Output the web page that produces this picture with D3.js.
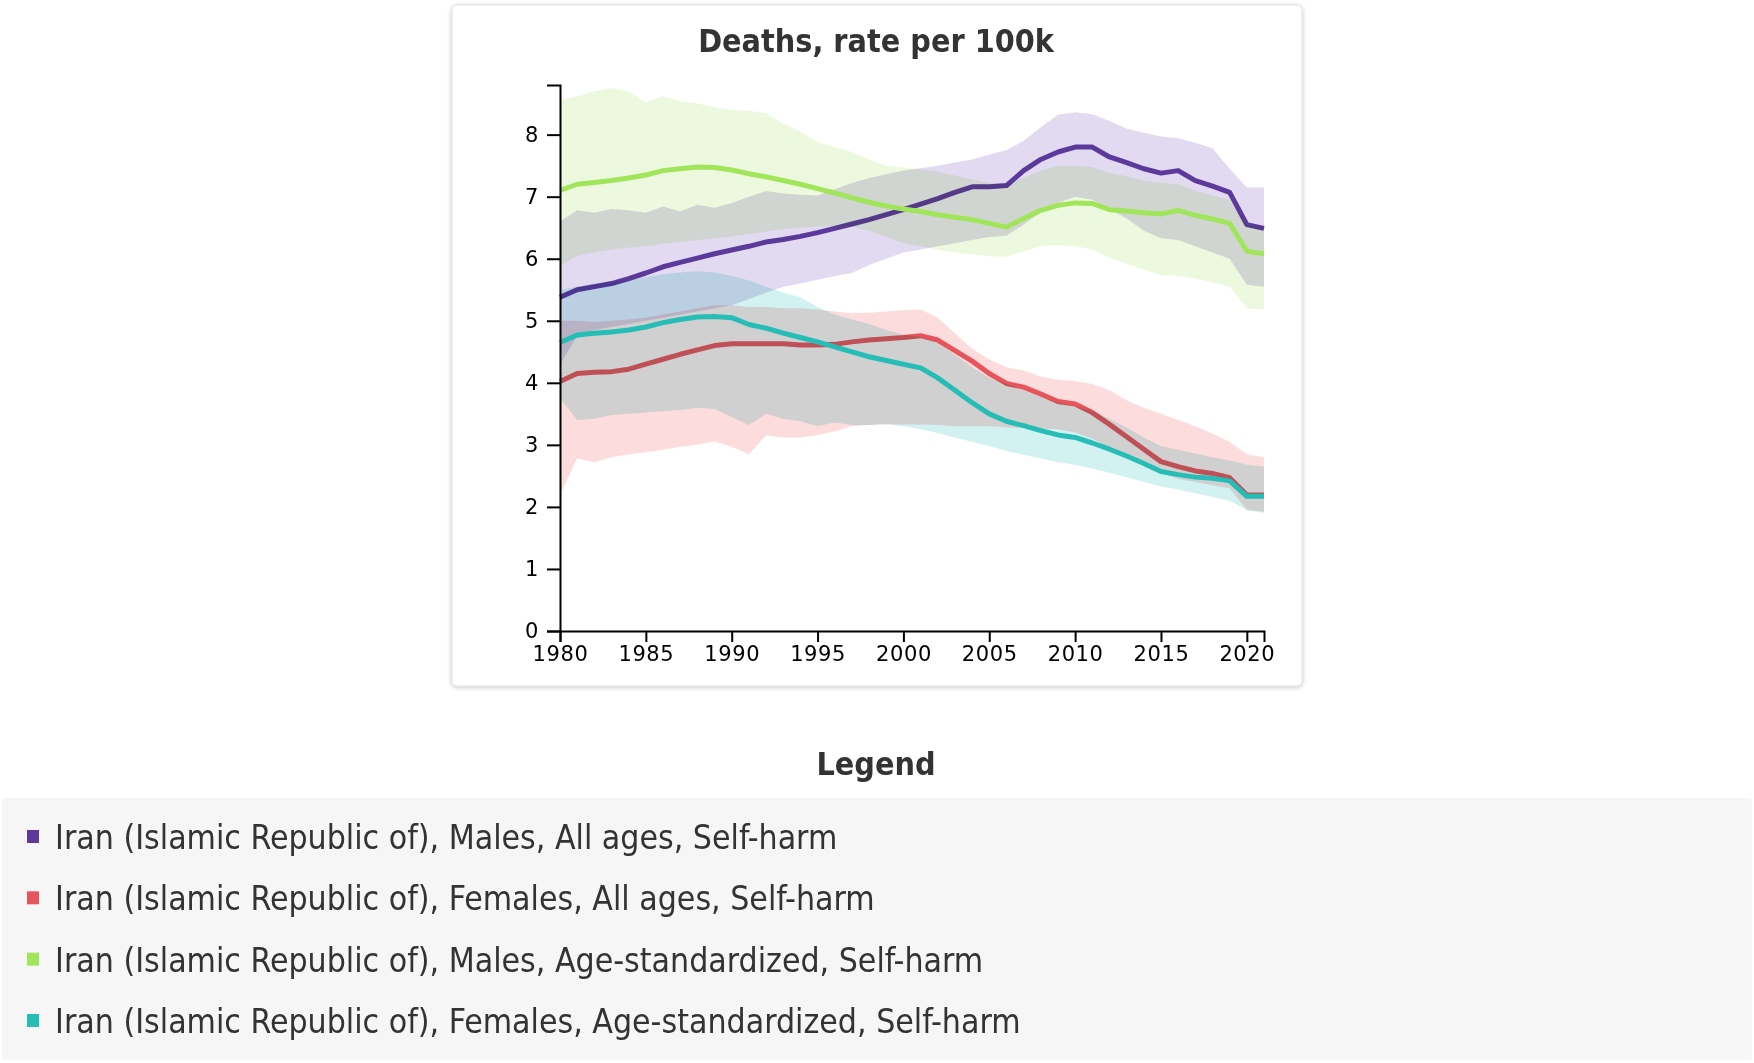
<!DOCTYPE html>
<html>
<head>
<meta charset="utf-8">
<script src="https://cdn.jsdelivr.net/npm/d3@7"></script>
<style>
  body { margin: 0; background: #fff; }
  svg { display: block; }
  .title { font-family: 'DejaVu Sans Condensed', 'DejaVu Sans', sans-serif; font-weight: bold; font-size: 32px; fill: #333; }
  .legend-item { font-family: 'DejaVu Sans Condensed', 'DejaVu Sans', sans-serif; font-size: 33.5px; fill: #333; }
  .axis path, .axis line { stroke: #000; stroke-width: 2; }
  .axis text { font-family: 'DejaVu Sans', sans-serif; font-size: 21px; letter-spacing: 0.6px; fill: #000; }
  .band { mix-blend-mode: multiply; }
  .line { fill: none; stroke-width: 5; stroke-linejoin: round; }
</style>
</head>
<body>
<svg id="chart"></svg>
<script>
const years = [1980, 1981, 1982, 1983, 1984, 1985, 1986, 1987, 1988, 1989,
    1990, 1991, 1992, 1993, 1994, 1995, 1996, 1997, 1998, 1999,
    2000, 2001, 2002, 2003, 2004, 2005, 2006, 2007, 2008, 2009,
    2010, 2011, 2012, 2013, 2014, 2015, 2016, 2017, 2018, 2019,
    2020, 2021]

// Males, All ages
const malesAll = [5.38, 5.50, 5.55, 5.60, 5.68, 5.77, 5.87, 5.94, 6.01, 6.08,
    6.14, 6.20, 6.27, 6.31, 6.36, 6.42, 6.49, 6.56, 6.63, 6.71,
    6.79, 6.88, 6.97, 7.07, 7.16, 7.16, 7.18, 7.42, 7.60, 7.72,
    7.80, 7.80, 7.64, 7.55, 7.45, 7.38, 7.42, 7.26, 7.17, 7.07,
    6.55, 6.49]
const malesAllUpper = [6.60, 6.78, 6.74, 6.80, 6.78, 6.74, 6.84, 6.76, 6.87, 6.82,
    6.90, 7.00, 7.09, 7.05, 7.03, 7.02, 7.12, 7.22, 7.30, 7.36,
    7.42, 7.46, 7.50, 7.55, 7.60, 7.68, 7.75, 7.90, 8.12, 8.32,
    8.36, 8.33, 8.22, 8.10, 8.03, 7.97, 7.94, 7.87, 7.78, 7.45,
    7.15, 7.15]
const malesAllLower = [4.30, 4.75, 4.85, 4.90, 4.95, 5.00, 5.05, 5.10, 5.15, 5.20,
    5.25, 5.35, 5.45, 5.55, 5.60, 5.66, 5.72, 5.77, 5.90, 6.00,
    6.10, 6.15, 6.20, 6.25, 6.30, 6.35, 6.37, 6.55, 6.75, 6.90,
    7.00, 6.95, 6.80, 6.65, 6.45, 6.33, 6.30, 6.20, 6.10, 6.00,
    5.58, 5.55]

// Females, All ages
const femalesAll = [4.02, 4.15, 4.17, 4.18, 4.22, 4.30, 4.38, 4.46, 4.53, 4.60,
    4.63, 4.63, 4.63, 4.63, 4.61, 4.61, 4.62, 4.66, 4.69, 4.71,
    4.73, 4.76, 4.69, 4.52, 4.35, 4.15, 3.99, 3.93, 3.82, 3.70,
    3.66, 3.52, 3.33, 3.13, 2.93, 2.73, 2.65, 2.58, 2.54, 2.47,
    2.19, 2.19]
const femalesAllUpper = [5.00, 5.00, 4.98, 5.00, 5.02, 5.05, 5.10, 5.15, 5.20, 5.25,
    5.25, 5.22, 5.22, 5.20, 5.20, 5.18, 5.15, 5.12, 5.13, 5.15,
    5.17, 5.18, 5.05, 4.80, 4.55, 4.38, 4.25, 4.20, 4.10, 4.05,
    4.03, 3.98, 3.88, 3.72, 3.60, 3.50, 3.40, 3.30, 3.18, 3.05,
    2.85, 2.80]
const femalesAllLower = [2.20, 2.78, 2.72, 2.80, 2.85, 2.88, 2.92, 2.97, 3.00, 3.06,
    2.97, 2.85, 3.15, 3.12, 3.12, 3.16, 3.22, 3.30, 3.32, 3.33,
    3.33, 3.33, 3.32, 3.30, 3.30, 3.30, 3.28, 3.27, 3.26, 3.25,
    3.20, 3.10, 2.95, 2.80, 2.66, 2.55, 2.45, 2.40, 2.35, 2.30,
    1.95, 1.92]

// Males, Age-standardized
const malesStd = [7.10, 7.20, 7.23, 7.26, 7.30, 7.35, 7.42, 7.45, 7.48, 7.47,
    7.43, 7.37, 7.32, 7.26, 7.20, 7.13, 7.06, 6.98, 6.91, 6.85,
    6.80, 6.76, 6.71, 6.67, 6.63, 6.57, 6.51, 6.65, 6.78, 6.86,
    6.90, 6.89, 6.79, 6.77, 6.74, 6.72, 6.78, 6.70, 6.64, 6.57,
    6.12, 6.08]
const malesStdUpper = [8.56, 8.62, 8.70, 8.75, 8.70, 8.52, 8.62, 8.54, 8.50, 8.44,
    8.40, 8.38, 8.35, 8.18, 8.05, 7.88, 7.80, 7.72, 7.60, 7.50,
    7.47, 7.44, 7.40, 7.34, 7.28, 7.22, 7.20, 7.30, 7.42, 7.50,
    7.50, 7.48, 7.38, 7.33, 7.26, 7.22, 7.20, 7.10, 7.02, 6.95,
    6.55, 6.50]
const malesStdLower = [5.88, 6.05, 6.10, 6.15, 6.18, 6.20, 6.24, 6.27, 6.30, 6.33,
    6.36, 6.40, 6.44, 6.48, 6.50, 6.52, 6.52, 6.52, 6.45, 6.35,
    6.25, 6.20, 6.15, 6.10, 6.07, 6.04, 6.03, 6.12, 6.20, 6.22,
    6.20, 6.15, 6.02, 5.92, 5.82, 5.74, 5.72, 5.68, 5.62, 5.55,
    5.20, 5.18]

// Females, Age-standardized
const femalesStd = [4.65, 4.77, 4.80, 4.82, 4.85, 4.90, 4.97, 5.02, 5.06, 5.07,
    5.05, 4.94, 4.88, 4.80, 4.73, 4.66, 4.58, 4.50, 4.42, 4.36,
    4.30, 4.24, 4.08, 3.88, 3.68, 3.50, 3.38, 3.31, 3.23, 3.16,
    3.12, 3.03, 2.93, 2.82, 2.70, 2.57, 2.52, 2.48, 2.46, 2.42,
    2.17, 2.17]
const femalesStdUpper = [5.50, 5.55, 5.60, 5.62, 5.65, 5.70, 5.75, 5.78, 5.80, 5.78,
    5.72, 5.65, 5.55, 5.45, 5.38, 5.22, 5.10, 5.02, 4.95, 4.85,
    4.78, 4.74, 4.65, 4.45, 4.25, 4.08, 3.98, 3.88, 3.78, 3.68,
    3.62, 3.55, 3.42, 3.28, 3.12, 2.98, 2.92, 2.86, 2.80, 2.75,
    2.68, 2.65]
const femalesStdLower = [3.75, 3.40, 3.42, 3.48, 3.50, 3.52, 3.54, 3.56, 3.60, 3.58,
    3.45, 3.32, 3.50, 3.42, 3.38, 3.30, 3.36, 3.32, 3.32, 3.34,
    3.30, 3.25, 3.19, 3.12, 3.05, 2.98, 2.90, 2.84, 2.78, 2.72,
    2.68, 2.62, 2.55, 2.48, 2.40, 2.33, 2.28, 2.22, 2.16, 2.10,
    1.95, 1.90]

const seriesNames = [
    'Iran (Islamic Republic of), Males, All ages, Self-harm',
    'Iran (Islamic Republic of), Females, All ages, Self-harm',
    'Iran (Islamic Republic of), Males, Age-standardized, Self-harm',
    'Iran (Islamic Republic of), Females, Age-standardized, Self-harm',
]
const lineColors = ['#5b3a9b', '#e8545b', '#a1e55a', '#25bdb5']
const bandColors = ['#e2daf0', '#fddcdd', '#ecf9df', '#d2f2f1']
const yTicks = [0, 1, 2, 3, 4, 5, 6, 7, 8]
const xTicks = [1980, 1985, 1990, 1995, 2000, 2005, 2010, 2015, 2020]
const yMax = 8.8

const series = [
    [malesAll, malesAllLower, malesAllUpper],
    [femalesAll, femalesAllLower, femalesAllUpper],
    [malesStd, malesStdLower, malesStdUpper],
    [femalesStd, femalesStdLower, femalesStdUpper],
].map(([mid, lo, hi], i) => ({
    name: seriesNames[i],
    color: lineColors[i],
    band: bandColors[i],
    values: years.map((year, j) => ({ year, value: mid[j], lower: lo[j], upper: hi[j] })),
}))

const WIDTH = 1754
const HEIGHT = 1063
const PLOT = { left: 560, right: 1264, top: 85, bottom: 631 }

const svg = d3.select('#chart')
    .attr('width', WIDTH)
    .attr('height', HEIGHT)
    .attr('viewBox', [0, 0, WIDTH, HEIGHT].join(' '))

const defs = svg.append('defs')
defs.append('filter')
    .attr('id', 'shadow')
    .attr('x', '-5%').attr('y', '-5%').attr('width', '110%').attr('height', '110%')
    .append('feDropShadow')
    .attr('dx', 0).attr('dy', 1)
    .attr('stdDeviation', 2)
    .attr('flood-color', '#000')
    .attr('flood-opacity', 0.25)

// Chart panel
svg.append('rect')
    .attr('x', 452).attr('y', 5)
    .attr('width', 850).attr('height', 681)
    .attr('rx', 5)
    .attr('fill', '#fff')
    .attr('stroke', '#e2e2e2')
    .attr('filter', 'url(#shadow)')

svg.append('text')
    .attr('class', 'title')
    .attr('x', 876).attr('y', 52)
    .attr('text-anchor', 'middle')
    .text('Deaths, rate per 100k')

const x = d3.scaleLinear().domain(d3.extent(years)).range([PLOT.left, PLOT.right])
const y = d3.scaleLinear().domain([0, yMax]).range([PLOT.bottom, PLOT.top])

const area = d3.area()
    .x(d => x(d.year))
    .y0(d => y(d.lower))
    .y1(d => y(d.upper))

const line = d3.line()
    .x(d => x(d.year))
    .y(d => y(d.value))

const plot = svg.append('g').style('isolation', 'isolate')

// each band is multiplied onto what is below it, then its line goes on top
series.forEach(s => {
    plot.append('path')
        .datum(s.values)
        .attr('class', 'band')
        .attr('fill', s.band)
        .attr('d', area)
    plot.append('path')
        .datum(s.values)
        .attr('class', 'line')
        .attr('stroke', s.color)
        .attr('d', line)
})

svg.append('g')
    .attr('class', 'axis axis--x')
    .attr('transform', `translate(0,${PLOT.bottom})`)
    .call(d3.axisBottom(x).tickValues(xTicks).tickFormat(d3.format('d')).tickSize(11).tickPadding(4))

svg.append('g')
    .attr('class', 'axis axis--y')
    .attr('transform', `translate(${PLOT.left},0)`)
    .call(d3.axisLeft(y).tickValues(yTicks).tickSize(13).tickPadding(8))

// Legend
svg.append('text')
    .attr('class', 'title')
    .attr('x', 876).attr('y', 775)
    .attr('text-anchor', 'middle')
    .text('Legend')

svg.append('rect')
    .attr('x', 2).attr('y', 798)
    .attr('width', 1750).attr('height', 262)
    .attr('rx', 4)
    .attr('fill', '#f6f6f6')

const legendY = d3.scalePoint().domain(seriesNames).range([837, 1021])

const items = svg.append('g')
    .selectAll('g')
    .data(series)
    .join('g')
    .attr('transform', d => `translate(0,${legendY(d.name)})`)

items.append('rect')
    .attr('x', 27).attr('y', -7)
    .attr('width', 12).attr('height', 13)
    .attr('fill', d => d.color)

items.append('text')
    .attr('class', 'legend-item')
    .attr('x', 55).attr('y', 12)
    .text(d => d.name)
</script>
</body>
</html>
